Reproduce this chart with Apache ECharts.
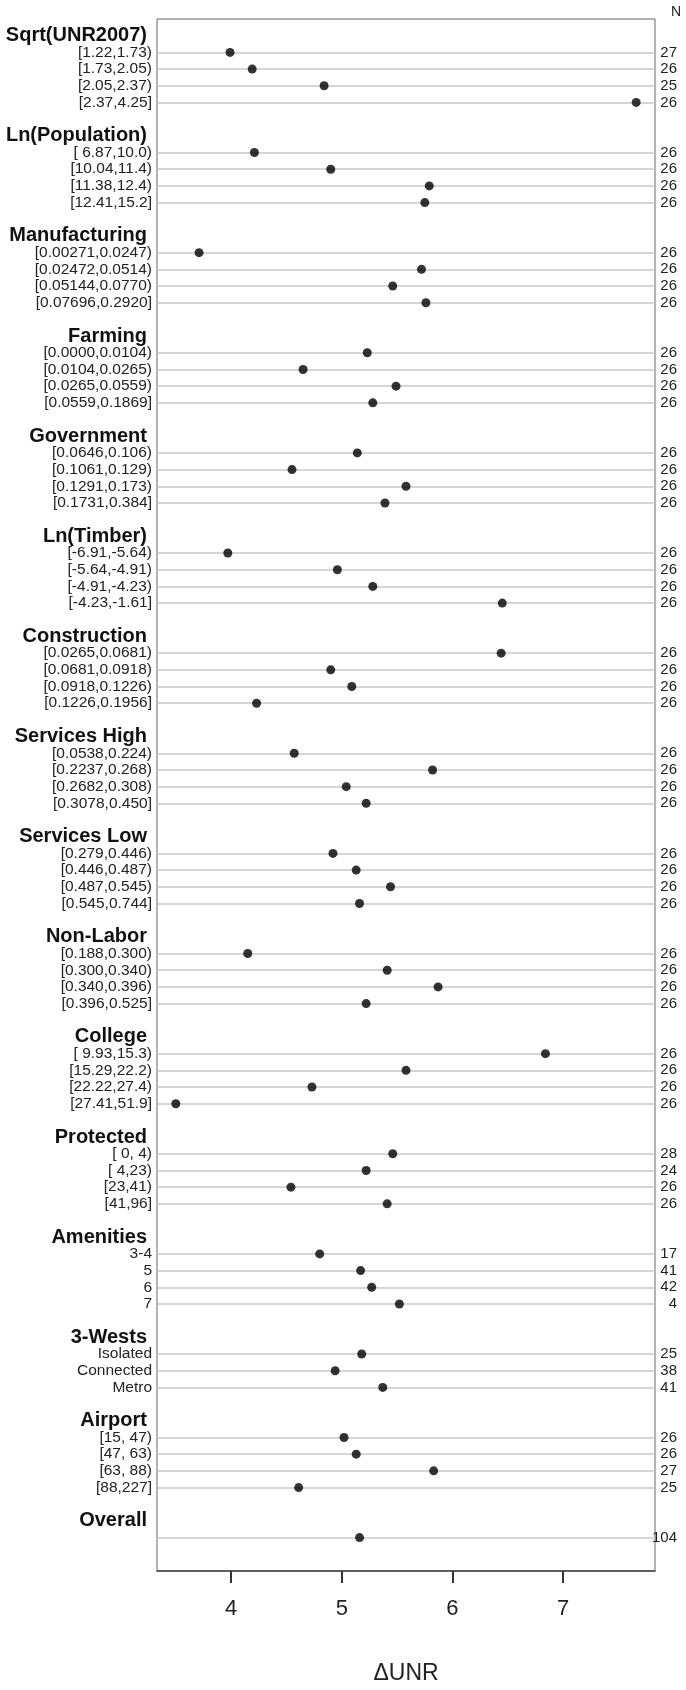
<!DOCTYPE html>
<html>
<head>
<meta charset="utf-8">
<script src="https://cdn.jsdelivr.net/npm/echarts@6/dist/echarts.min.js"></script>
<style>
  html, body { margin: 0; padding: 0; background: #fff; }
  #chart { width: 686px; height: 1690px; }
</style>
</head>
<body>
<div id="chart"></div>
<script>
// dot chart of mean change in UNR by quartile groups
const groupNames = [
  "Sqrt(UNR2007)", "Ln(Population)", "Manufacturing", "Farming", "Government",
  "Ln(Timber)", "Construction", "Services High", "Services Low", "Non-Labor",
  "College", "Protected", "Amenities", "3-Wests", "Airport", "Overall",
];
const itemLabels = [
  ["[1.22,1.73)", "[1.73,2.05)", "[2.05,2.37)", "[2.37,4.25]"],
  ["[ 6.87,10.0)", "[10.04,11.4)", "[11.38,12.4)", "[12.41,15.2]"],
  ["[0.00271,0.0247)", "[0.02472,0.0514)", "[0.05144,0.0770)", "[0.07696,0.2920]"],
  ["[0.0000,0.0104)", "[0.0104,0.0265)", "[0.0265,0.0559)", "[0.0559,0.1869]"],
  ["[0.0646,0.106)", "[0.1061,0.129)", "[0.1291,0.173)", "[0.1731,0.384]"],
  ["[-6.91,-5.64)", "[-5.64,-4.91)", "[-4.91,-4.23)", "[-4.23,-1.61]"],
  ["[0.0265,0.0681)", "[0.0681,0.0918)", "[0.0918,0.1226)", "[0.1226,0.1956]"],
  ["[0.0538,0.224)", "[0.2237,0.268)", "[0.2682,0.308)", "[0.3078,0.450]"],
  ["[0.279,0.446)", "[0.446,0.487)", "[0.487,0.545)", "[0.545,0.744]"],
  ["[0.188,0.300)", "[0.300,0.340)", "[0.340,0.396)", "[0.396,0.525]"],
  ["[ 9.93,15.3)", "[15.29,22.2)", "[22.22,27.4)", "[27.41,51.9]"],
  ["[ 0, 4)", "[ 4,23)", "[23,41)", "[41,96]"],
  ["3-4", "5", "6", "7"],
  ["Isolated", "Connected", "Metro"],
  ["[15, 47)", "[47, 63)", "[63, 88)", "[88,227]"],
  [""],
];
const deltaUNR = [
  [3.99, 4.19, 4.84, 7.66],
  [4.21, 4.90, 5.79, 5.75],
  [3.71, 5.72, 5.46, 5.76],
  [5.23, 4.65, 5.49, 5.28],
  [5.14, 4.55, 5.58, 5.39],
  [3.97, 4.96, 5.28, 6.45],
  [6.44, 4.90, 5.09, 4.23],
  [4.57, 5.82, 5.04, 5.22],
  [4.92, 5.13, 5.44, 5.16],
  [4.15, 5.41, 5.87, 5.22],
  [6.84, 5.58, 4.73, 3.50],
  [5.46, 5.22, 4.54, 5.41],
  [4.80, 5.17, 5.27, 5.52],
  [5.18, 4.94, 5.37],
  [5.02, 5.13, 5.83, 4.61],
  [5.16],
];
const countN = [
  [27, 26, 25, 26],
  [26, 26, 26, 26],
  [26, 26, 26, 26],
  [26, 26, 26, 26],
  [26, 26, 26, 26],
  [26, 26, 26, 26],
  [26, 26, 26, 26],
  [26, 26, 26, 26],
  [26, 26, 26, 26],
  [26, 26, 26, 26],
  [26, 26, 26, 26],
  [28, 24, 26, 26],
  [17, 41, 42, 4],
  [25, 38, 41],
  [26, 26, 27, 25],
  [104],
];
const xTicks = [4, 5, 6, 7];
const xRange = [3.33, 7.83];

const font = "'Liberation Sans', Arial, sans-serif";

// one row per line of the dot chart: group header, items, blank gap
const rows = [{ kind: "pad" }];
groupNames.forEach((g, gi) => {
  if (gi > 0) rows.push({ kind: "blank" });
  rows.push({ kind: "group", text: g });
  itemLabels[gi].forEach((lab, ii) => {
    rows.push({ kind: "item", text: lab, value: deltaUNR[gi][ii], n: countN[gi][ii] });
  });
});
rows.push({ kind: "pad" }, { kind: "pad" });

const rowKeys = rows.map((r, k) => "r" + k);
const rowOf = (v) => rows[Number(String(v).slice(1))];

const points = [];
rows.forEach((r, k) => {
  if (r.kind === "item") points.push([r.value, rowKeys[k]]);
});

const chart = echarts.init(document.getElementById("chart"));

const option = {
  animation: false,
  title: {
    text: "N",
    right: 5,
    top: 5,
    padding: 0,
    textStyle: { fontFamily: font, fontSize: 14, fontWeight: "normal", color: "#222" },
  },
  grid: {
    left: 157,
    right: 31,
    top: 19,
    bottom: 116,
    show: true,
    borderColor: "#666",
    borderWidth: 1,
    backgroundColor: "transparent",
  },
  xAxis: {
    type: "value",
    min: xRange[0],
    max: xRange[1],
    name: "ΔUNR",
    nameLocation: "middle",
    nameGap: 91,
    nameTextStyle: { fontFamily: font, fontSize: 23, color: "#222" },
    axisLine: { show: true, lineStyle: { color: "#444", width: 1.5 } },
    axisTick: { show: true, length: 12, lineStyle: { color: "#333", width: 2 }, customValues: xTicks },
    axisLabel: {
      margin: 27,
      fontFamily: font,
      fontSize: 22,
      color: "#222",
      customValues: xTicks,
    },
    splitLine: { show: false },
  },
  yAxis: [
    {
      type: "category",
      data: rowKeys,
      inverse: true,
      boundaryGap: false,
      axisLine: { show: false },
      axisTick: { show: false },
      splitLine: {
        show: true,
        interval: (index) => rows[index] && rows[index].kind === "item",
        lineStyle: { color: "#c8c8c8", width: 1.6 },
      },
      axisLabel: {
        interval: 0,
        margin: 5,
        formatter: (v) => {
          const r = rowOf(v);
          if (r.kind === "group") return "{g|" + r.text + "}";
          if (r.kind === "item") return "{i|" + r.text + "}";
          return "";
        },
        rich: {
          g: { fontFamily: font, fontWeight: "bold", fontSize: 20, color: "#111", padding: [0, 5, 0, 0] },
          i: { fontFamily: font, fontSize: 15.5, color: "#222" },
        },
      },
    },
    {
      type: "category",
      data: rowKeys,
      inverse: true,
      boundaryGap: false,
      position: "right",
      axisLine: { show: false },
      axisTick: { show: false },
      splitLine: { show: false },
      axisLabel: {
        interval: 0,
        margin: 22,
        align: "right",
        fontFamily: font,
        fontSize: 15,
        color: "#222",
        formatter: (v) => {
          const r = rowOf(v);
          return r.kind === "item" ? String(r.n) : "";
        },
      },
    },
  ],
  series: [
    {
      type: "scatter",
      yAxisIndex: 0,
      data: points,
      symbol: "circle",
      symbolSize: 9,
      itemStyle: { color: "#000" },
    },
  ],
};

chart.setOption(option);
</script>
</body>
</html>
